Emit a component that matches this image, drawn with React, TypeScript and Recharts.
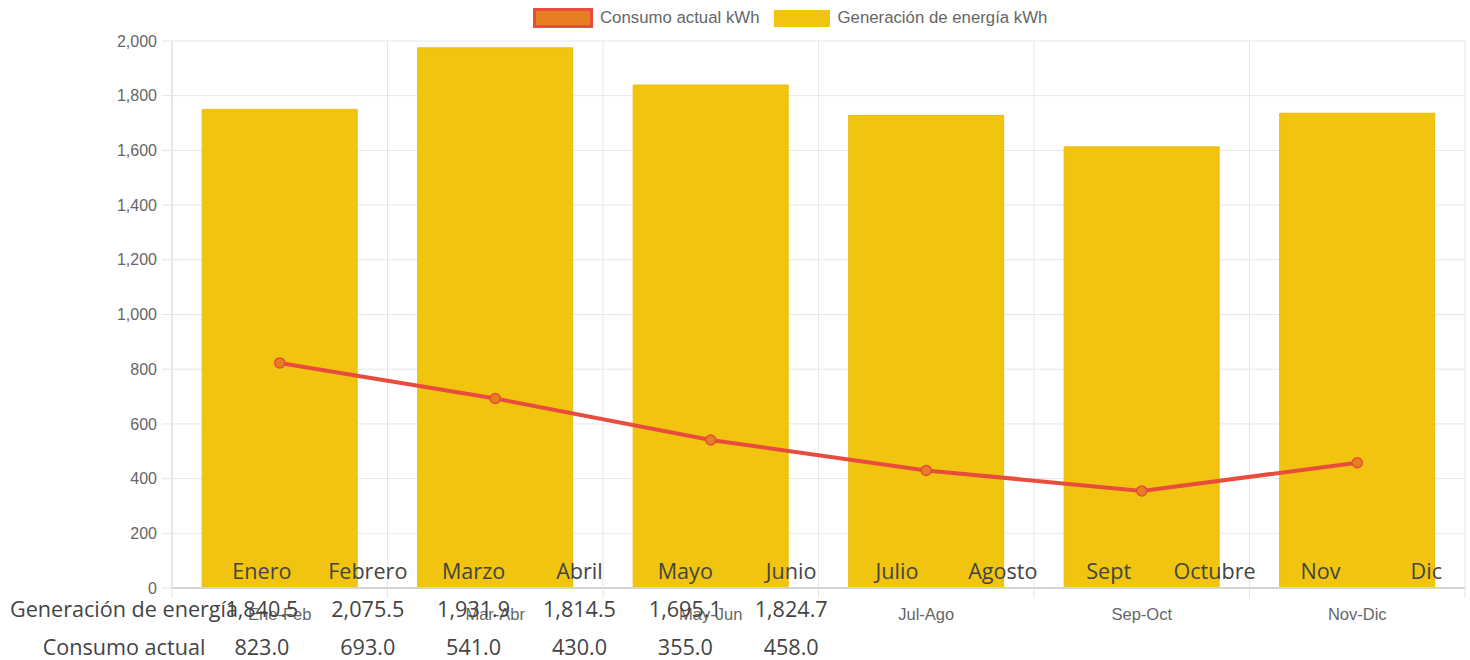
import React from 'react';
import { ComposedChart, Bar, Line, XAxis, YAxis, CartesianGrid } from 'recharts';

// bimonthly periods on the x axis
const periods = ['Ene-Feb', 'Mar-Abr', 'May-Jun', 'Jul-Ago', 'Sep-Oct', 'Nov-Dic'];
const generationKwh = [1750, 1975, 1839, 1728, 1613, 1736];
const consumptionKwh = [823, 693, 541, 430, 355, 458];
const yTicks = [0, 200, 400, 600, 800, 1000, 1200, 1400, 1600, 1800, 2000];

// table printed under the chart
const months = ['Enero', 'Febrero', 'Marzo', 'Abril', 'Mayo', 'Junio', 'Julio', 'Agosto', 'Sept', 'Octubre', 'Nov', 'Dic'];
const tableGeneration = [1840.5, 2075.5, 1931.9, 1814.5, 1695.1, 1824.7];
const tableConsumption = [823.0, 693.0, 541.0, 430.0, 355.0, 458.0];

const data = periods.map((p, i) => ({
  period: p,
  generation: generationKwh[i],
  consumption: consumptionKwh[i],
}));

const LINE_COLOR = '#E74C3C';
const POINT_COLOR = '#E67E22';
const BAR_COLOR = '#F1C40F';
const GRID_COLOR = '#e6e6e6';
const AXIS_FONT = '"Liberation Sans", Arial, sans-serif';
const TABLE_FONT = '"Open Sans", "Noto Sans", sans-serif';

const TICK_SIZE = 10;
const TICK_MARGIN = 11;

const fmt1 = (v: number) => v.toLocaleString('en-US', { minimumFractionDigits: 1, maximumFractionDigits: 1 });

function PeriodTick(props: any) {
  const { x, y, payload, index, visibleTicksCount } = props;
  const half = payload.offset || 0;
  const axisY = y - TICK_SIZE - TICK_MARGIN;
  return (
    <g>
      <line x1={x - half} x2={x - half} y1={axisY} y2={axisY + TICK_SIZE} stroke={GRID_COLOR} />
      {index === visibleTicksCount - 1 && (
        <line x1={x + half} x2={x + half} y1={axisY} y2={axisY + TICK_SIZE} stroke={GRID_COLOR} />
      )}
      <text x={x} y={y} dy="0.68em" textAnchor="middle" fill="#666" fontSize={16.5} fontFamily={AXIS_FONT}>
        {payload.value}
      </text>
    </g>
  );
}

const COL_START = 209;
const COL_W = 105.85;

function TableRow({ top, label, values }: { top: number; label?: string; values: string[] }) {
  return (
    <>
      {label && (
        <div style={{ position: 'absolute', top, left: -6, width: 260, textAlign: 'center', whiteSpace: 'nowrap' }}>
          {label}
        </div>
      )}
      {values.map((v, i) => (
        <div
          key={i}
          style={{ position: 'absolute', top, left: COL_START + i * COL_W, width: COL_W, textAlign: 'center', whiteSpace: 'nowrap' }}
        >
          {v}
        </div>
      ))}
    </>
  );
}

function LegendBar() {
  const text: React.CSSProperties = { color: '#666', fontSize: 16.8, fontFamily: AXIS_FONT, whiteSpace: 'nowrap' };
  return (
    <div style={{ position: 'absolute', top: 8, left: 533, display: 'flex', alignItems: 'center' }}>
      <div style={{ width: 60, height: 20, boxSizing: 'border-box', border: `3px solid ${LINE_COLOR}`, background: POINT_COLOR }} />
      <span style={{ ...text, marginLeft: 7 }}>Consumo actual kWh</span>
      <div style={{ width: 56, height: 17, background: BAR_COLOR, marginLeft: 14 }} />
      <span style={{ ...text, marginLeft: 8 }}>Generación de energía kWh</span>
    </div>
  );
}

export default function App() {
  return (
    <div style={{ position: 'absolute', top: 0, left: 0, width: 1470, height: 660, background: '#fff' }}>
      <ComposedChart width={1470} height={660} data={data} margin={{ top: 41, right: 5, bottom: 0, left: 0 }} barCategoryGap="14%">
        <CartesianGrid
          stroke={GRID_COLOR}
          verticalCoordinatesGenerator={({ offset }: any) =>
            periods.map((_, i) => offset.left + (i * offset.width) / periods.length).concat(offset.left + offset.width)
          }
        />
        <XAxis
          dataKey="period"
          height={72}
          tickSize={TICK_SIZE}
          tickMargin={TICK_MARGIN}
          tickLine={false}
          axisLine={{ stroke: '#d4d4d4', strokeWidth: 2 }}
          tick={<PeriodTick />}
          interval={0}
        />
        <YAxis
          width={172}
          domain={[0, 2000]}
          ticks={yTicks}
          tickSize={10}
          tickMargin={5}
          tickLine={{ stroke: GRID_COLOR }}
          axisLine={{ stroke: '#dcdcdc' }}
          tickFormatter={(v: number) => v.toLocaleString('en-US')}
          tick={{ fill: '#666', fontSize: 16, fontFamily: AXIS_FONT }}
        />
        <Bar dataKey="generation" fill={BAR_COLOR} stroke="#e8bd0e" strokeWidth={1} isAnimationActive={false} />
        <Line
          type="linear"
          dataKey="consumption"
          stroke={LINE_COLOR}
          strokeWidth={4}
          dot={{ r: 5, fill: POINT_COLOR, stroke: LINE_COLOR, strokeWidth: 1.5 }}
          isAnimationActive={false}
        />
      </ComposedChart>
      <LegendBar />
      <div style={{ position: 'absolute', inset: 0, fontFamily: TABLE_FONT, fontSize: 21.6, color: '#444', pointerEvents: 'none' }}>
        <TableRow top={556} values={months} />
        <TableRow top={594} label="Generación de energía" values={tableGeneration.map(fmt1)} />
        <TableRow top={632} label="Consumo actual" values={tableConsumption.map(fmt1)} />
      </div>
    </div>
  );
}
